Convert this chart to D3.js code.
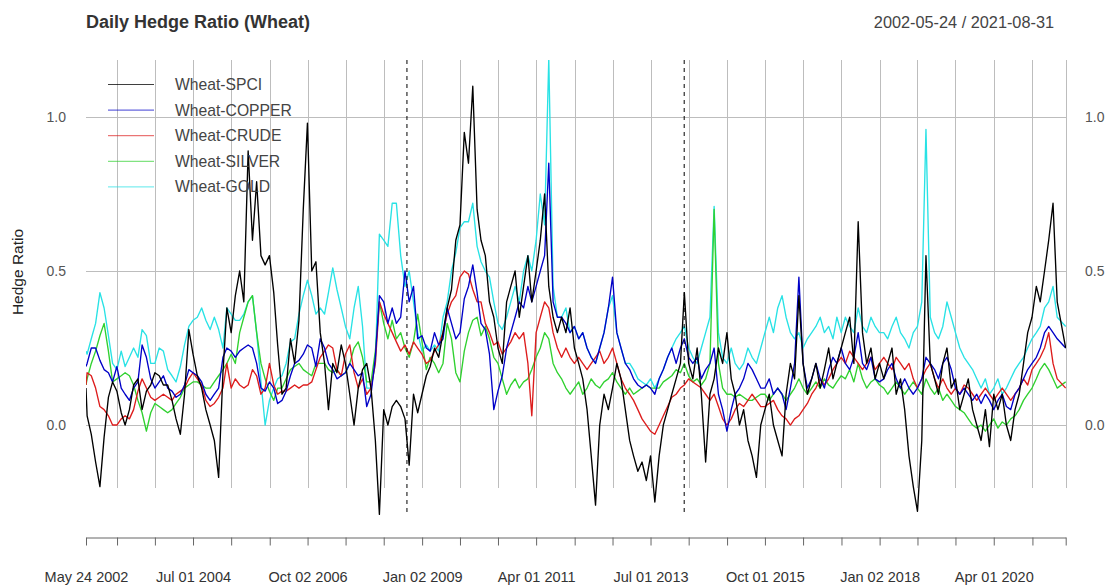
<!DOCTYPE html>
<html>
<head>
<meta charset="utf-8">
<script src="https://cdn.jsdelivr.net/npm/d3@7"></script>
<style>
  body { margin: 0; background: #fff; }
  svg { display: block; font-family: "Liberation Sans", Arial, sans-serif; }
</style>
</head>
<body>
<svg width="1110" height="585"></svg>
<script>
// one value per month, May 2002 .. Aug 2021
const seriesNames = ["Wheat-SPCI", "Wheat-COPPER", "Wheat-CRUDE", "Wheat-SILVER", "Wheat-GOLD"];
const seriesColors = ["#000000", "#0000c8", "#dd1c1c", "#2fd12f", "#28e2e5"];

const spci = [
  0.12, 0.03, -0.03, -0.12, -0.2, -0.04, 0.09, 0.14, 0.11, 0.04,
  0.0, 0.05, 0.13, 0.15, 0.05, 0.11, 0.13, 0.17, 0.16, 0.13,
  0.13, 0.08, 0.02, -0.03, 0.1, 0.31, 0.23, 0.16, 0.12, 0.05,
  0.0, -0.05, -0.17, 0.17, 0.38, 0.3, 0.42, 0.5, 0.4, 0.89,
  0.6, 0.79, 0.55, 0.52, 0.55, 0.43, 0.26, 0.1, 0.12, 0.28,
  0.2, 0.34, 0.7, 0.98, 0.5, 0.53, 0.3, 0.2, 0.05, 0.2,
  0.17, 0.26, 0.2, 0.1, 0.0, 0.12, 0.18, 0.2, 0.12, -0.05,
  -0.29, 0.05, 0.0, 0.06, 0.08, 0.06, 0.02, -0.13, 0.1, 0.04,
  0.1, 0.16, 0.19, 0.25, 0.22, 0.3, 0.38, 0.44, 0.6, 0.65,
  0.95, 0.85, 1.1, 0.7, 0.6, 0.55, 0.4, 0.35, 0.25, 0.2,
  0.4, 0.45, 0.5, 0.35, 0.45, 0.55, 0.4, 0.5, 0.6, 0.75,
  0.45, 0.35, 0.3, 0.35, 0.3, 0.38, 0.25, 0.2, 0.15, 0.05,
  -0.1, -0.26, 0.0, 0.1, 0.05, 0.12, 0.2, 0.15, 0.05, -0.05,
  -0.1, -0.15, -0.12, -0.18, -0.1, -0.25, -0.1, 0.0, 0.05, 0.1,
  0.15, 0.2, 0.43, 0.2, 0.15, 0.25, 0.1, -0.12, 0.1, 0.15,
  0.25, 0.2, 0.3, 0.15, 0.1, 0.0, 0.05, -0.05, -0.1, -0.17,
  0.0, 0.05, 0.1, 0.0, -0.05, -0.1, 0.1, 0.2, 0.15, 0.42,
  0.2, 0.1, 0.15, 0.2, 0.12, 0.18, 0.25, 0.15, 0.2, 0.25,
  0.3, 0.35, 0.2, 0.66, 0.3, 0.2, 0.25, 0.15, 0.2, 0.15,
  0.2, 0.25, 0.1, 0.15, 0.05, -0.1, -0.2, -0.28, -0.05, 0.55,
  0.2, 0.15, 0.1, 0.2, 0.25, 0.12, 0.15, 0.05, 0.1, 0.15,
  0.05, 0.0, -0.05, 0.05, -0.07, 0.1, 0.05, 0.1, 0.0, -0.05,
  0.05, 0.1, 0.2, 0.3, 0.35, 0.45, 0.4, 0.5, 0.6, 0.72,
  0.4, 0.25
];
const copper = [
  0.19, 0.2, 0.25, 0.25, 0.21, 0.18, 0.17, 0.14, 0.19, 0.12,
  0.1, 0.08, 0.12, 0.14, 0.26, 0.22, 0.15, 0.12, 0.14, 0.16,
  0.12, 0.11, 0.09, 0.1, 0.13, 0.18, 0.17, 0.16, 0.14, 0.1,
  0.08, 0.1, 0.12, 0.22, 0.25, 0.24, 0.22, 0.24, 0.25, 0.26,
  0.25, 0.2, 0.12, 0.11, 0.14, 0.12, 0.07, 0.08, 0.11, 0.16,
  0.2, 0.21, 0.23, 0.26, 0.25, 0.19, 0.28, 0.25, 0.2, 0.18,
  0.15, 0.16, 0.17, 0.2, 0.18, 0.16, 0.17, 0.06, 0.1, 0.22,
  0.42, 0.4, 0.33, 0.38, 0.33, 0.35, 0.5, 0.4, 0.45, 0.28,
  0.29, 0.25, 0.24, 0.3, 0.26, 0.28, 0.38, 0.33, 0.28, 0.3,
  0.41, 0.45, 0.52, 0.43, 0.33, 0.31, 0.23, 0.05, 0.11, 0.16,
  0.25, 0.3, 0.35, 0.4, 0.38, 0.45, 0.4, 0.45, 0.5, 0.55,
  0.85, 0.4, 0.35, 0.35, 0.33, 0.3, 0.32, 0.28, 0.3, 0.25,
  0.22, 0.2, 0.25, 0.3, 0.38, 0.48, 0.3, 0.25, 0.2, 0.18,
  0.15, 0.13, 0.12, 0.13, 0.12, 0.1, 0.15, 0.18, 0.22, 0.25,
  0.2, 0.25, 0.28, 0.22, 0.2, 0.22, 0.15, 0.18, 0.2, 0.25,
  0.1, 0.05, -0.02, 0.05, 0.1, 0.12, 0.15, 0.2, 0.18, 0.15,
  0.12, 0.12, 0.15, 0.1, 0.12, 0.1, 0.05, 0.12, 0.2, 0.48,
  0.2, 0.12, 0.15, 0.2, 0.15, 0.12, 0.18, 0.22, 0.2, 0.25,
  0.2, 0.18, 0.22, 0.3, 0.2, 0.18, 0.22, 0.15, 0.14, 0.15,
  0.18, 0.2, 0.15, 0.12, 0.15, 0.12, 0.1, 0.12, 0.15, 0.22,
  0.2, 0.18, 0.15, 0.2, 0.22, 0.18, 0.12, 0.1, 0.12, 0.1,
  0.08, 0.1, 0.07, 0.1, 0.08, 0.05, 0.08, 0.1, 0.06, 0.05,
  0.1, 0.12, 0.15, 0.18, 0.2, 0.22, 0.25, 0.3, 0.32, 0.3,
  0.28, 0.25
];
const crude = [
  0.13, 0.17, 0.16, 0.12, 0.06, 0.05, 0.03, 0.0, 0.0, 0.02,
  0.03, 0.02, 0.05, 0.11, 0.15, 0.12, 0.09, 0.08, 0.09, 0.1,
  0.09, 0.08, 0.1, 0.11, 0.12, 0.15, 0.17, 0.15, 0.13, 0.08,
  0.06, 0.07, 0.09, 0.12, 0.2, 0.12, 0.15, 0.13, 0.12, 0.13,
  0.18, 0.16, 0.1, 0.12, 0.2, 0.13, 0.1, 0.11, 0.11, 0.12,
  0.13, 0.12, 0.13, 0.13, 0.14, 0.18, 0.22, 0.24, 0.26, 0.25,
  0.18, 0.16, 0.23, 0.26, 0.17, 0.12, 0.15, 0.1, 0.12, 0.2,
  0.4, 0.36, 0.33, 0.3, 0.27, 0.24, 0.26, 0.23, 0.27, 0.25,
  0.23, 0.2, 0.21, 0.24, 0.26, 0.3, 0.36, 0.4, 0.42, 0.48,
  0.5, 0.49, 0.44, 0.4, 0.4, 0.33, 0.3, 0.26, 0.27, 0.23,
  0.25, 0.27, 0.3, 0.28, 0.3, 0.2, 0.03, 0.3, 0.35, 0.4,
  0.38, 0.3, 0.25, 0.22, 0.25, 0.22, 0.2, 0.22, 0.2, 0.18,
  0.2, 0.22, 0.24, 0.2, 0.22, 0.25, 0.2, 0.15, 0.12, 0.1,
  0.08, 0.05, 0.02, 0.0, -0.02, -0.03, 0.0, 0.03, 0.06, 0.09,
  0.1, 0.12, 0.13, 0.15, 0.14, 0.13, 0.12, 0.1, 0.08, 0.1,
  0.06, 0.02, 0.0, 0.02, 0.05, 0.07, 0.06, 0.08, 0.1, 0.08,
  0.06, 0.06, 0.07, 0.08, 0.05, 0.03, 0.02, 0.0, 0.02, 0.03,
  0.05, 0.07, 0.1, 0.12, 0.15, 0.13, 0.15, 0.18, 0.2, 0.22,
  0.2, 0.24, 0.22, 0.2, 0.18, 0.2, 0.22, 0.18, 0.2, 0.22,
  0.2, 0.18, 0.22, 0.2, 0.18, 0.2, 0.15, 0.12, 0.15, 0.18,
  0.2, 0.15, 0.12, 0.15, 0.12, 0.1, 0.12, 0.1, 0.13, 0.12,
  0.1, 0.08, 0.1, 0.12, 0.1, 0.08, 0.1, 0.12, 0.1, 0.08,
  0.1, 0.12, 0.15, 0.13, 0.18, 0.2, 0.22, 0.25, 0.3, 0.2,
  0.15, 0.12
];
const silver = [
  0.13, 0.15, 0.2, 0.24, 0.29, 0.33, 0.24, 0.14, 0.15, 0.16,
  0.17, 0.16, 0.13, 0.08, 0.04, -0.02, 0.04, 0.07, 0.06, 0.05,
  0.04, 0.05, 0.07, 0.09, 0.12, 0.13, 0.14, 0.14, 0.13, 0.12,
  0.12, 0.14, 0.16, 0.18, 0.2, 0.23, 0.2, 0.3, 0.35, 0.4,
  0.42, 0.3, 0.2, 0.15, 0.11, 0.08, 0.12, 0.12, 0.15, 0.18,
  0.19, 0.2, 0.18, 0.17, 0.16, 0.2, 0.2, 0.2, 0.18, 0.17,
  0.18, 0.16, 0.17, 0.2, 0.25, 0.27, 0.22, 0.14, 0.14, 0.24,
  0.4, 0.33, 0.28, 0.34, 0.28, 0.3, 0.25, 0.22, 0.27, 0.36,
  0.27, 0.18, 0.22, 0.2, 0.17, 0.2, 0.33, 0.28, 0.17, 0.14,
  0.24, 0.3, 0.34, 0.35, 0.29, 0.32, 0.28, 0.22, 0.2, 0.15,
  0.1, 0.13, 0.15, 0.12, 0.14, 0.15, 0.18, 0.22, 0.25, 0.3,
  0.28, 0.2, 0.17, 0.15, 0.12, 0.1, 0.12, 0.14, 0.1, 0.12,
  0.15, 0.13, 0.12, 0.14, 0.15, 0.17, 0.14, 0.12, 0.1, 0.12,
  0.1, 0.11, 0.12, 0.13, 0.12, 0.12, 0.12, 0.14, 0.15, 0.16,
  0.18, 0.17, 0.2, 0.16, 0.14, 0.15, 0.13, 0.15, 0.2, 0.7,
  0.2, 0.12, 0.1, 0.1, 0.09, 0.1, 0.09, 0.08, 0.08, 0.09,
  0.1, 0.1, 0.08, 0.1, 0.12, 0.1, 0.08, 0.1, 0.12, 0.15,
  0.12, 0.1, 0.12, 0.14, 0.12, 0.15, 0.13, 0.12, 0.14, 0.16,
  0.15, 0.18, 0.14, 0.2, 0.15, 0.12, 0.14, 0.15, 0.13, 0.12,
  0.1, 0.12, 0.14, 0.12, 0.1, 0.12, 0.14, 0.12, 0.1, 0.15,
  0.12, 0.1, 0.12, 0.08, 0.1, 0.08, 0.06, 0.05, 0.04, 0.02,
  0.0, -0.01, 0.0, -0.02, 0.0, 0.02, -0.01, 0.01, 0.0, 0.02,
  0.03, 0.05, 0.08, 0.1, 0.12, 0.15, 0.18, 0.2, 0.18, 0.15,
  0.12, 0.14
];
const gold = [
  0.24, 0.23, 0.28, 0.33, 0.43, 0.38, 0.29, 0.2, 0.18, 0.24,
  0.19, 0.22, 0.25, 0.22, 0.31, 0.29, 0.2, 0.2, 0.25, 0.24,
  0.18, 0.16, 0.14, 0.19, 0.26, 0.32, 0.34, 0.35, 0.38, 0.34,
  0.31, 0.35, 0.31, 0.25, 0.38, 0.36, 0.34, 0.34, 0.36, 0.4,
  0.42, 0.3, 0.14, 0.0, 0.08, 0.12, 0.15, 0.16, 0.2, 0.27,
  0.28, 0.36, 0.42, 0.47, 0.42, 0.36, 0.38, 0.36, 0.43, 0.51,
  0.44, 0.38, 0.32, 0.28, 0.38, 0.45, 0.32, 0.12, 0.12, 0.2,
  0.62, 0.6, 0.58, 0.72, 0.72, 0.55, 0.45, 0.5, 0.4, 0.3,
  0.24, 0.26, 0.24, 0.26, 0.24, 0.35, 0.4, 0.5, 0.56, 0.64,
  0.66, 0.66, 0.72, 0.58, 0.53, 0.5, 0.48, 0.4, 0.33, 0.31,
  0.35, 0.4, 0.45, 0.4, 0.5, 0.55, 0.5, 0.6, 0.75, 0.65,
  1.19, 0.45, 0.35, 0.35, 0.38, 0.3, 0.32, 0.28, 0.3, 0.25,
  0.22, 0.2, 0.25, 0.3, 0.38, 0.42, 0.3, 0.25, 0.2, 0.2,
  0.18, 0.15, 0.14, 0.13, 0.15, 0.12, 0.15, 0.18, 0.22, 0.25,
  0.28, 0.3, 0.32, 0.25, 0.22, 0.2, 0.25, 0.3, 0.35, 0.71,
  0.3, 0.22, 0.2, 0.25, 0.2, 0.18, 0.2, 0.25, 0.22, 0.2,
  0.25, 0.3, 0.35, 0.3, 0.38, 0.42, 0.35, 0.3, 0.28, 0.3,
  0.25, 0.28, 0.3, 0.32, 0.35, 0.3, 0.32, 0.28, 0.35, 0.3,
  0.35, 0.32, 0.3, 0.38, 0.32, 0.3, 0.35, 0.32, 0.3, 0.3,
  0.28, 0.32, 0.35, 0.3, 0.28, 0.25, 0.3, 0.32, 0.4, 0.96,
  0.35, 0.3, 0.28, 0.32, 0.4, 0.35, 0.3, 0.25, 0.22, 0.2,
  0.18, 0.15, 0.12, 0.15, 0.1, 0.12, 0.15, 0.1, 0.12, 0.15,
  0.18, 0.2, 0.22, 0.25, 0.28, 0.3, 0.32, 0.38, 0.4, 0.45,
  0.35, 0.32
];

// axis ticks (first trading days) and the two break dates
const tickDates = ["2002-05-24", "2003-01-02", "2003-10-01", "2004-07-01", "2005-04-01", "2006-01-03",
  "2006-10-02", "2007-07-02", "2008-04-01", "2009-01-02", "2009-10-01", "2010-07-01", "2011-04-01",
  "2012-01-03", "2012-10-01", "2013-07-01", "2014-04-01", "2015-01-02", "2015-10-01", "2016-07-01",
  "2017-04-03", "2018-01-02", "2018-10-01", "2019-07-01", "2020-04-01", "2021-01-04", "2021-08-31"];
const breakDates = ["2008-09-15", "2014-02-28"];
const yTicks = [0, 0.5, 1.0];

const parse = d3.timeParse("%Y-%m-%d");
const startDate = parse("2002-05-24"), endDate = parse("2021-08-31");

// month stamps for the values
let dates = d3.timeMonth.range(new Date(2002, 4, 1), new Date(2021, 8, 1));
dates[0] = startDate;
dates[dates.length - 1] = endDate;

const seriesData = [spci, copper, crude, silver, gold];

let svg = d3.select("svg");

let x = d3.scaleTime().domain([startDate, endDate]).range([86, 1065.7]);
let y = d3.scaleLinear().domain([-0.292, 1.185]).range([515, 60]);

// title + date range
svg.append("text").attr("x", 86).attr("y", 28)
  .attr("font-size", 18).attr("font-weight", "bold").attr("fill", "#333")
  .text("Daily Hedge Ratio (Wheat)");
svg.append("text").attr("x", 1054).attr("y", 28).attr("text-anchor", "end")
  .attr("font-size", 16.3).attr("fill", "#444")
  .text(d3.timeFormat("%Y-%m-%d")(startDate) + " / " + d3.timeFormat("%Y-%m-%d")(endDate));

// grid
let grid = svg.append("g").attr("stroke", "#bdbdbd").attr("stroke-width", 1);
grid.selectAll("line.v")
  .data(tickDates.slice(1).map(parse))
  .enter().append("line")
  .attr("x1", d => Math.round(x(d)) + 0.5).attr("x2", d => Math.round(x(d)) + 0.5)
  .attr("y1", 60).attr("y2", 488);
grid.selectAll("line.h")
  .data(yTicks)
  .enter().append("line")
  .attr("x1", 86).attr("x2", 1066)
  .attr("y1", d => Math.round(y(d)) + 0.5).attr("y2", d => Math.round(y(d)) + 0.5);

// y labels both sides
svg.selectAll("text.yl").data(yTicks).enter().append("text")
  .attr("x", 66).attr("y", d => y(d)).attr("dy", "0.35em")
  .attr("text-anchor", "end").attr("font-size", 14).attr("fill", "#555")
  .text(d3.format(".1f"));
svg.selectAll("text.yr").data(yTicks).enter().append("text")
  .attr("x", 1085).attr("y", d => y(d)).attr("dy", "0.35em")
  .attr("font-size", 14).attr("fill", "#555")
  .text(d3.format(".1f"));

svg.append("text")
  .attr("transform", "translate(23," + 272 + ") rotate(-90)")
  .attr("text-anchor", "middle").attr("font-size", 15.5).attr("fill", "#222")
  .text("Hedge Ratio");

// x axis
const tickFmt = d3.timeFormat("%b %d %Y");
let xAxis = d3.axisBottom(x)
  .tickValues(tickDates.map(parse))
  .tickSize(8).tickSizeOuter(0).tickPadding(26)
  .tickFormat((d, i) => (i % 3 == 0 && i < tickDates.length - 1) ? tickFmt(d) : "");
let gx = svg.append("g").attr("transform", "translate(0,537.5)").call(xAxis);
gx.select(".domain").attr("stroke", "#666");
gx.selectAll(".tick line").attr("stroke", "#666");
gx.selectAll(".tick text").attr("font-size", 14.5).attr("fill", "#333")
  .attr("font-family", "Liberation Sans, Arial, sans-serif");

// series
svg.append("clipPath").attr("id", "plotclip")
  .append("rect").attr("x", 86).attr("y", 60).attr("width", 980).attr("height", 455);

let line = d3.line()
  .x((d, i) => x(dates[i]))
  .y(d => y(d));

// gold first, spci on top
d3.range(seriesData.length).reverse().forEach(function (k) {
  svg.append("path")
    .datum(seriesData[k])
    .attr("clip-path", "url(#plotclip)")
    .attr("fill", "none")
    .attr("stroke", seriesColors[k])
    .attr("stroke-width", 1.35)
    .attr("stroke-linejoin", "round")
    .attr("d", line);
});

// break lines
svg.selectAll("line.brk")
  .data(breakDates.map(parse))
  .enter().append("line")
  .attr("x1", d => x(d)).attr("x2", d => x(d))
  .attr("y1", 60).attr("y2", 515)
  .attr("stroke", "#000").attr("stroke-dasharray", "4,4");

// legend
let legend = svg.append("g");
seriesNames.forEach(function (name, i) {
  let ly = 84.5 + i * 25.6;
  legend.append("line").attr("x1", 108).attr("x2", 154).attr("y1", ly).attr("y2", ly)
    .attr("stroke", seriesColors[i]).attr("stroke-width", 1).attr("opacity", 0.75);
  legend.append("text").attr("x", 175).attr("y", ly).attr("dy", "0.35em")
    .attr("font-size", 15.7).attr("fill", "#444").text(name);
});
</script>
</body>
</html>
